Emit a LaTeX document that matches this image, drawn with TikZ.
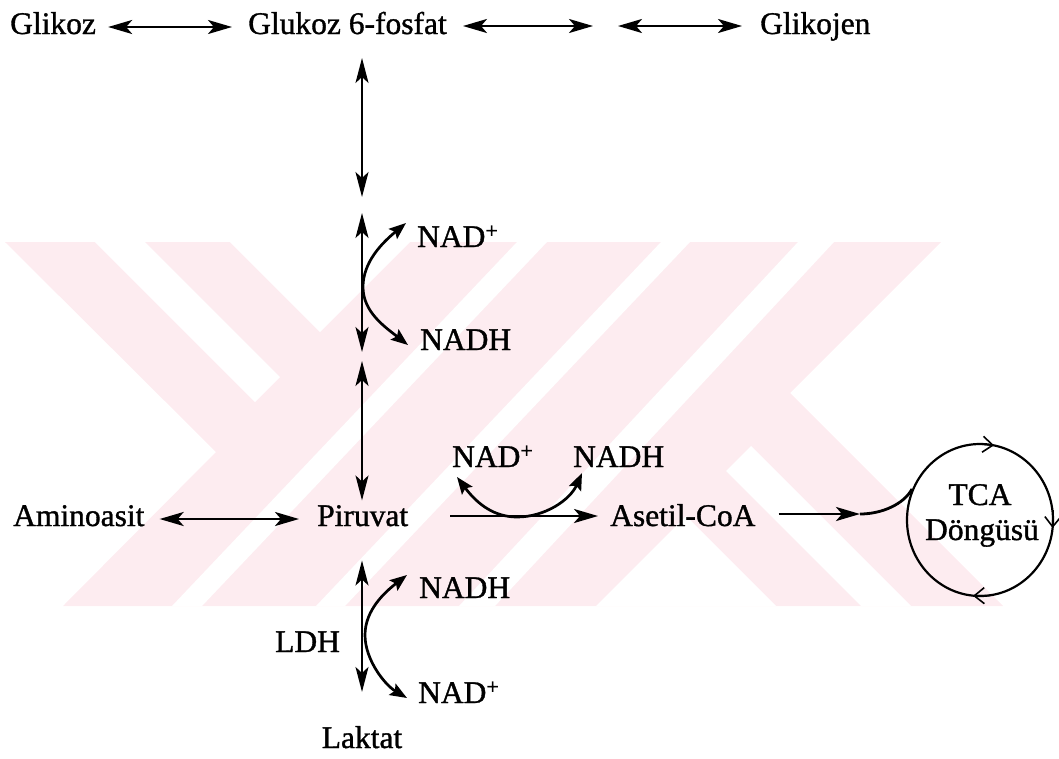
\documentclass[tikz,border=0pt]{standalone}
\usepackage{fontspec}
\setmainfont{Liberation Serif}[FakeBold=1.1]
\usetikzlibrary{arrows.meta,calc}
\definecolor{wmpink}{RGB}{253,236,240}

\begin{document}
\begin{tikzpicture}[x=1pt,y=-1pt,
  lbl/.style={inner sep=0pt, font=\fontsize{31.5}{36}\selectfont, anchor=base west},
  clbl/.style={lbl, anchor=base},
  link/.style={line width=2.5pt},
  thin/.style={line width=2pt},
  bi/.style={link, {Stealth[length=24pt,width=14pt,inset=6pt]}-{Stealth[length=24pt,width=14pt,inset=6pt]}},
  vbi/.style={thin, {Stealth[length=25pt,width=13pt,inset=6pt]}-{Stealth[length=25pt,width=13pt,inset=6pt]}},
  fw/.style={link, -{Stealth[length=24pt,width=14pt,inset=6pt]}},
  cofac/.style={line width=2.7pt, {Stealth[length=17pt,width=13pt,inset=3pt]}-{Stealth[length=17pt,width=13pt,inset=3pt]}},
  barb/.style={line width=1.6pt, -{Straight Barb[length=10pt,width=16pt]}},
]
\useasboundingbox (0,0) rectangle (1059,758);

% faint background emblem
\fill[wmpink] (5,242) -- (941,242) -- (790,393) -- (1003,606) -- (63,606) -- (216,452) -- cycle;
\fill[white] (95,242) -- (145,242) -- (280,377) -- (255,402) -- cycle;
\fill[white] (911,606) -- (861,606) -- (726,471) -- (751,446) -- cycle;
\fill[white] (230,242) -- (410,242) -- (320,332) -- cycle;
\fill[white] (776,606) -- (596,606) -- (686,516) -- cycle;
\fill[white] (517,242) -- (547,242) -- (202,606) -- (172,606) -- cycle;
\fill[white] (661,242) -- (690,242) -- (345,606) -- (316,606) -- cycle;
\fill[white] (798,242) -- (834,242) -- (495,606) -- (459,606) -- cycle;

% labels
\node[lbl] (glikoz) at (10,34) {Glikoz};
\node[lbl] (g6p) at (248,34) {Glukoz 6-fosfat};
\node[lbl] (glikojen) at (760,34) {Glikojen};
\node[lbl] (nad1) at (417,247) {NAD\textsuperscript{+}};
\node[lbl] (nadh1) at (420,350) {NADH};
\node[lbl] (amino) at (13,526) {Aminoasit};
\node[lbl] (piruvat) at (317,526) {Piruvat};
\node[lbl] (nad2) at (452,467) {NAD\textsuperscript{+}};
\node[lbl] (nadh2) at (573,467) {NADH};
\node[lbl] (acoa) at (610,526) {Asetil-CoA};
\node[lbl] (nadh3) at (419,598) {NADH};
\node[lbl] (nad3) at (418,703) {NAD\textsuperscript{+}};
\node[lbl] (ldh) at (275,652) {LDH};
\node[clbl] (laktat) at (362,748) {Laktat};
\node[clbl] (tca1) at (980,505) {TCA};
\node[clbl] (tca2) at (982,540) {Döngüsü};

% helper points
\coordinate (g1p) at (605,27);
\coordinate (s1) at (362,205);
\coordinate (s2) at (362,356.5);
\coordinate (v0) at (g6p.base -| s1);
\coordinate (p0) at (piruvat.north -| s1);
\coordinate (p1) at (piruvat.south -| s1);
\coordinate (l0) at (laktat.north -| s1);
\coordinate (tin) at (860,514);
\coordinate (tjoin) at (912,489);
\coordinate (tca) at (980,520);

% top row
\draw[bi] ([xshift=12pt,yshift=7pt]glikoz.base east) -- ([xshift=-16pt,yshift=7pt]g6p.base west);
\draw[bi] ([xshift=16pt,yshift=8pt]g6p.base east) -- ([xshift=-12pt,yshift=1pt]g1p);
\draw[bi] ([xshift=13pt,yshift=1pt]g1p) -- ([xshift=-18pt,yshift=8pt]glikojen.base west);

% vertical chain
\draw[vbi] ([yshift=-24pt]v0) -- ([yshift=8pt]s1);
\draw[vbi] ([yshift=-8pt]s1) -- ([yshift=4.5pt]s2);
\draw[vbi] ([yshift=-4.5pt]s2) -- ([yshift=4.5pt]p0);
\draw[vbi] ([yshift=-34pt]p1) -- ([yshift=34pt]l0);

% middle row
\draw[bi] ([xshift=15pt,yshift=7pt]amino.base east) -- ([xshift=-18pt,yshift=7pt]piruvat.base west);
\draw[fw] ([xshift=42pt,yshift=10pt]piruvat.base east) -- ([xshift=-12pt,yshift=10pt]acoa.base west);
\draw[fw, line width=2.8pt] ([xshift=23pt,yshift=12pt]acoa.base east) -- (tin);
\draw[line width=2.8pt] (tin) .. controls (882,514) and (904,504) .. (tjoin);

% cofactor arcs
\coordinate (c1a) at (406,223);
\coordinate (c1b) at (408,345);
\draw[cofac] (c1a) .. controls (382,243) and (363,262) .. (363,287)
                   .. controls (363,312) and (385,327) .. (c1b);
\coordinate (c2a) at (457,477);
\coordinate (c2b) at (582,473);
\draw[cofac] (c2a) .. controls (478,505) and (495,517) .. (517,517)
                   .. controls (545,517) and (570,500) .. (c2b);
\coordinate (c3a) at (407,575);
\coordinate (c3b) at (407,698);
\draw[cofac] (c3a) .. controls (385,592) and (365,610) .. (365,635)
                   .. controls (365,660) and (385,685) .. (c3b);

% TCA cycle
\draw[line width=2.2pt] (tca) circle[x radius=73, y radius=76];
\draw[barb] (980,444) -- (994,445.3);
\draw[barb] (1053,510) -- (1052.6,528);
\draw[barb] (990,595.6) -- (973,595.8);
\end{tikzpicture}
\end{document}
